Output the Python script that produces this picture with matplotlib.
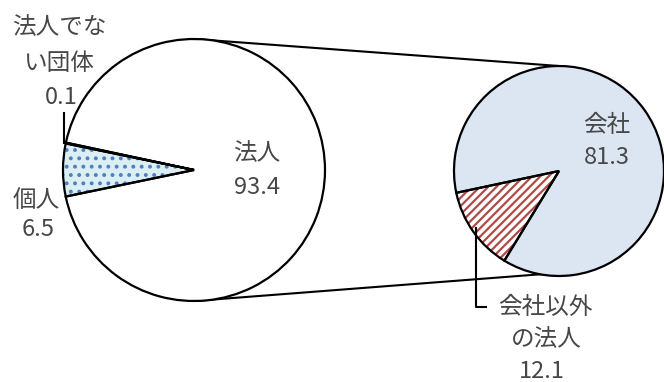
import matplotlib
matplotlib.use('Agg')
import matplotlib.pyplot as plt

plt.rcParams['font.family'] = ['Noto Sans CJK JP', 'DejaVu Sans']
plt.rcParams['hatch.linewidth'] = 1.6

# left pie: 法人 / 個人 / 法人でない団体
left_labels = ['法人', '個人', '法人でない団体']
left_vals = [93.4, 6.5, 0.1]
# right pie: breakdown of 法人
right_labels = ['会社', '会社以外の法人']
right_vals = [81.3, 12.1]

W, H = 664, 382
fig = plt.figure(figsize=(W / 100, H / 100), dpi=100)
ax = fig.add_axes([0, 0, 1, 1])

txt = '#474747'
fs = 17

lc, lr = (194, H - 170), 131
rc, rr = (559, H - 171), 105

# connector lines (top to top, bottom to bottom)
ax.plot([lc[0], rc[0]], [lc[1] + lr, rc[1] + rr], color='black', lw=1.5, zorder=1)
ax.plot([lc[0], rc[0] - 15], [lc[1] - lr, rc[1] - rr + 2], color='black', lw=1.5, zorder=1)

# left pie, fills
w_l, _ = ax.pie(left_vals, center=lc, radius=lr, startangle=167.94, counterclock=False,
                colors=['white', '#DAEEF3', 'white'], frame=True,
                wedgeprops=dict(linewidth=0))
w_l[1].set_hatch('..')
w_l[1].set_edgecolor('#4F81BD')
# outlines
ax.pie(left_vals, center=lc, radius=lr, startangle=167.94, counterclock=False, frame=True,
       wedgeprops=dict(fill=False, edgecolor='black', linewidth=1.6))

# right pie: 会社以外 wedge sits between ~192 and ~239 degrees
start_r = 192 - right_vals[0] / sum(right_vals) * 360
w_r, _ = ax.pie(right_vals, center=rc, radius=rr, startangle=start_r, frame=True,
                colors=['#DCE6F2', 'white'], wedgeprops=dict(linewidth=0))
w_r[1].set_hatch('////')
w_r[1].set_edgecolor('#B04A46')
ax.pie(right_vals, center=rc, radius=rr, startangle=start_r, frame=True,
       wedgeprops=dict(fill=False, edgecolor='black', linewidth=1.6))

ax.set_xlim(0, W)
ax.set_ylim(0, H)
ax.set_aspect('equal')
ax.axis('off')

# leader lines
ax.plot([64, 64], [H - 143, H - 113], color='black', lw=1.5)
ax.plot([476, 476, 486], [H - 228, H - 307, H - 307], color='black', lw=1.5)

def t(x, y, s):
    ax.text(x, H - y, s, ha='center', va='center', fontsize=fs, color=txt)

t(59, 28, '法人でな')
t(58, 64, 'い団体')
t(61, 98, f'{left_vals[2]:.1f}')
t(36, 200, '個人')
t(38, 230, f'{left_vals[1]:.1f}')
t(257, 154, left_labels[0])
t(257, 188, f'{left_vals[0]:.1f}')
t(607, 125, right_labels[0])
t(607, 158, f'{right_vals[0]:.1f}')
t(545, 307, '会社以外')
t(546, 340, 'の法人')
t(542, 372, f'{right_vals[1]:.1f}')

fig.savefig('out.png', dpi=100)
